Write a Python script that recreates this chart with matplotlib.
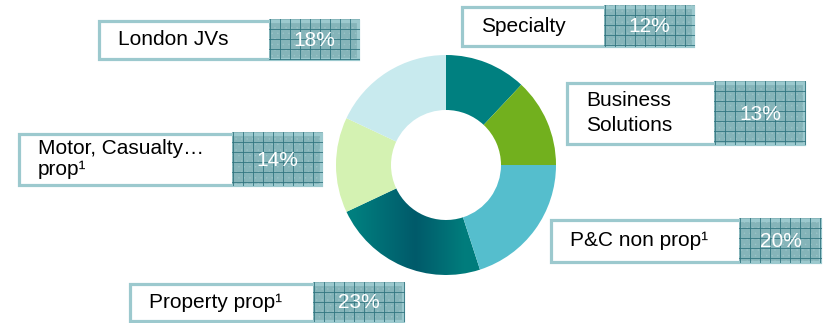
import matplotlib.pyplot as plt
import numpy as np
from matplotlib.patches import Rectangle
from matplotlib.colors import LinearSegmentedColormap

plt.rcParams['font.family'] = ['Liberation Sans', 'DejaVu Sans']
plt.rcParams['hatch.linewidth'] = 0.3

# portfolio split, clockwise from 12 o'clock
segments = ['Specialty', 'Business\nSolutions', 'P&C non prop¹', 'Property prop¹',
            'Motor, Casualty…\nprop¹', 'London JVs']
shares = [12, 13, 20, 23, 14, 18]
colors = ['#008080', '#72B01E', '#55BECD', None, '#D4F2B2', '#C8EAEE']

# label boxes in pixels: left, top, right, bottom, split between text and value, line spacing
boxes = [
    (461, 5, 695, 47, 604, 1.0),
    (566, 81, 806, 145, 714, 1.38),
    (550, 218, 822, 263, 739, 1.0),
    (129, 282, 405, 322, 313, 1.0),
    (18, 132, 323, 186, 232, 1.1),
    (98, 19, 360, 60, 269, 1.0),
]

W, H = 823, 323
fig = plt.figure(figsize=(W / 100, H / 100), dpi=100)

# donut
cx, cy, r = 446, 165, 110
pax = fig.add_axes([(cx - r) / W, (H - cy - r) / H, 2 * r / W, 2 * r / H])
wedges, _ = pax.pie(shares, startangle=90, counterclock=False, radius=1,
                    colors=[c if c else 'none' for c in colors],
                    wedgeprops=dict(width=0.5, linewidth=0))
pax.set_xlim(-1, 1)
pax.set_ylim(-1, 1)
pax.set_aspect('auto')
pax.axis('off')

# shaded fill for the property wedge, darkest just left of centre
shade = LinearSegmentedColormap.from_list(
    'shade', [(0, '#00807F'), (0.08, '#007F7F'), (0.36, '#005A6A'),
              (0.58, '#007C7C'), (1, '#00807F')])
grad = np.linspace(0, 1, 256).reshape(1, -1)
idx = colors.index(None)
img = pax.imshow(grad, cmap=shade, extent=(-1, 1, -1, 1), aspect='auto', zorder=0.5)
img.set_clip_path(wedges[idx])

# label boxes
ax = fig.add_axes([0, 0, 1, 1])
ax.set_xlim(0, W)
ax.set_ylim(H, 0)
ax.axis('off')

for label, val, (x0, y0, x1, y1, xs, ls) in zip(segments, shares, boxes):
    ax.add_patch(Rectangle((x0, y0), x1 - x0, y1 - y0, facecolor='white', edgecolor='none'))
    cell = Rectangle((xs, y0), x1 - xs, y1 - y0, facecolor='#85B4B9', edgecolor='#9AC3C7',
                     hatch='...', linewidth=0)
    ax.add_patch(cell)
    for gx in np.arange(xs + 1, x1, 10):
        ln, = ax.plot([gx, gx], [y0, y1], color='#317580', lw=0.6)
        ln.set_clip_path(cell)
    for gy in np.arange(y0 + 10, y1, 10):
        ln, = ax.plot([xs, x1], [gy, gy], color='#317580', lw=0.6)
        ln.set_clip_path(cell)
    ax.add_patch(Rectangle((x0 + 1.5, y0 + 1.5), x1 - x0 - 3, y1 - y0 - 3, facecolor='none',
                           edgecolor='#9CC9CE', linewidth=2.3))
    ax.text(x0 + 20, (y0 + y1) / 2, label, fontsize=15, color='black',
            ha='left', va='center', linespacing=ls)
    ax.text((xs + x1) / 2, (y0 + y1) / 2 + 1, f'{val}%', fontsize=15, color='white',
            ha='center', va='center')

fig.savefig('out.png', dpi=100)
